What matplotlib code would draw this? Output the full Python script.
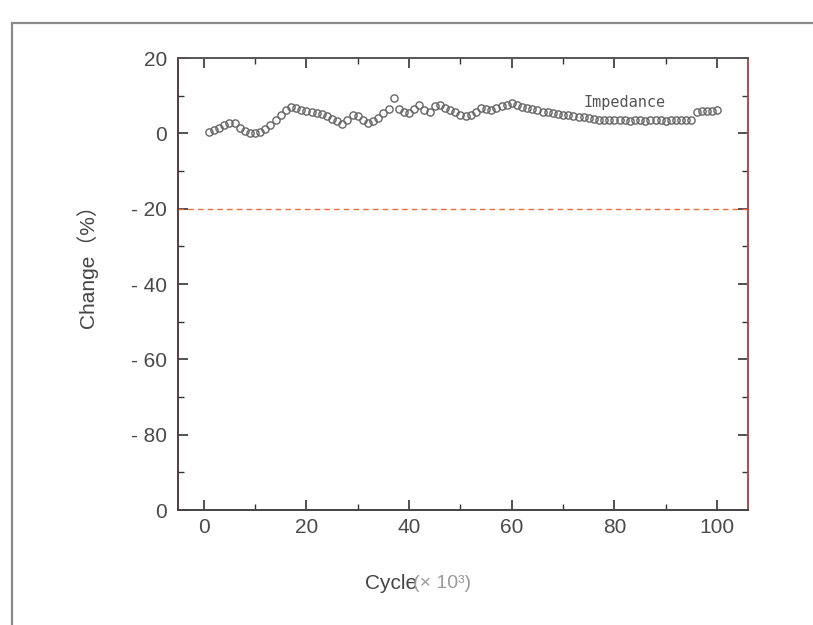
import numpy as np
import matplotlib
matplotlib.use("Agg")
import matplotlib.pyplot as plt
from matplotlib.patches import Rectangle

plt.rcParams["font.family"] = ["Liberation Sans", "Noto Sans CJK SC", "DejaVu Sans"]

# ── data ────────────────────────────────────────────────────────────────────
cycles = list(range(1, 101))   # x 10^3
change = [0.3, 0.8, 1.5, 2.3, 2.9, 2.7, 1.5, 0.6, 0.2, 0.1,
          0.3, 1.2, 2.2, 3.5, 5.0, 6.3, 7.0, 6.8, 6.2, 6.0,
          5.8, 5.5, 5.2, 4.5, 3.8, 3.2, 2.6, 3.5, 5.0, 4.6,
          3.5, 2.7, 3.2, 4.2, 5.5, 6.5, 9.5, 6.5, 5.8, 5.5,
          6.5, 7.5, 6.2, 5.8, 7.3, 7.5, 6.8, 6.2, 5.6, 5.0,
          4.5, 4.8, 5.8, 6.8, 6.5, 6.2, 6.8, 7.2, 7.6, 8.0,
          7.5, 7.0, 6.8, 6.6, 6.2, 5.8, 5.6, 5.3, 5.2, 5.0,
          4.8, 4.6, 4.4, 4.3, 4.0, 3.8, 3.7, 3.6, 3.6, 3.5,
          3.5, 3.5, 3.4, 3.5, 3.5, 3.4, 3.5, 3.5, 3.5, 3.4,
          3.5, 3.5, 3.6, 3.6, 3.7, 5.8, 6.0, 6.0, 6.0, 6.1]
limit = -20
y_ticks = [20, 0, -20, -40, -60, -80, -100]
y_ticklabels = ["20", "0", "- 20", "- 40", "- 60", "- 80", "0"]
x_ticks = [0, 20, 40, 60, 80, 100]

fig = plt.figure(figsize=(8.13, 6.25), dpi=100)
ax = fig.add_axes([0.219, 0.184, 0.701, 0.723])

# outer scan frame
fig.patches.append(Rectangle((0.0148, -0.01), 1.0, 0.973, transform=fig.transFigure,
                             fill=False, edgecolor="#8a8a8a", linewidth=1.6))

ax.plot(cycles, change, linestyle="none", marker="o", markersize=5.2,
        markerfacecolor="none", markeredgecolor="#666666", markeredgewidth=1.0)
ax.axhline(limit, color="#ef6a3a", linestyle=(0, (4, 3)), linewidth=1.0)

ax.text(74, 6.2, "Impedance", fontsize=11, family="DejaVu Sans Mono",
        color="#555555", va="bottom", ha="left")

ax.set_xlim(-5, 106)
ax.set_ylim(-100, 20)
ax.set_xticks(x_ticks)
ax.set_xticks(range(0, 101, 10), minor=True)
ax.set_yticks(y_ticks)
ax.set_yticklabels(y_ticklabels)
ax.set_yticks(range(-90, 20, 10), minor=True)

ax.tick_params(which="both", direction="in", top=True, right=True,
               labelsize=15, labelcolor="#4a4a4a", color="#333333")
ax.tick_params(which="major", length=7, width=1.2)
ax.tick_params(which="minor", length=4, width=1.0)
ax.tick_params(axis="x", pad=6)
ax.tick_params(axis="y", pad=8)

ax.spines["left"].set_color("#5a3a40")
ax.spines["right"].set_color("#b04a4a")
ax.spines["top"].set_color("#555555")
ax.spines["bottom"].set_color("#444444")
for s in ax.spines.values():
    s.set_linewidth(1.4)

ax.set_ylabel("Change（%）", fontsize=15, color="#444444")
ax.yaxis.set_label_coords(-0.14, 0.55)
ax.set_xlabel("")
fig.text(0.449, 0.067, "Cycle", fontsize=15, color="#444444", ha="left", va="center")
fig.text(0.508, 0.067, "(× 10³)", fontsize=14, color="#9a9a9a", ha="left", va="center")

plt.savefig("out.png", dpi=100)
